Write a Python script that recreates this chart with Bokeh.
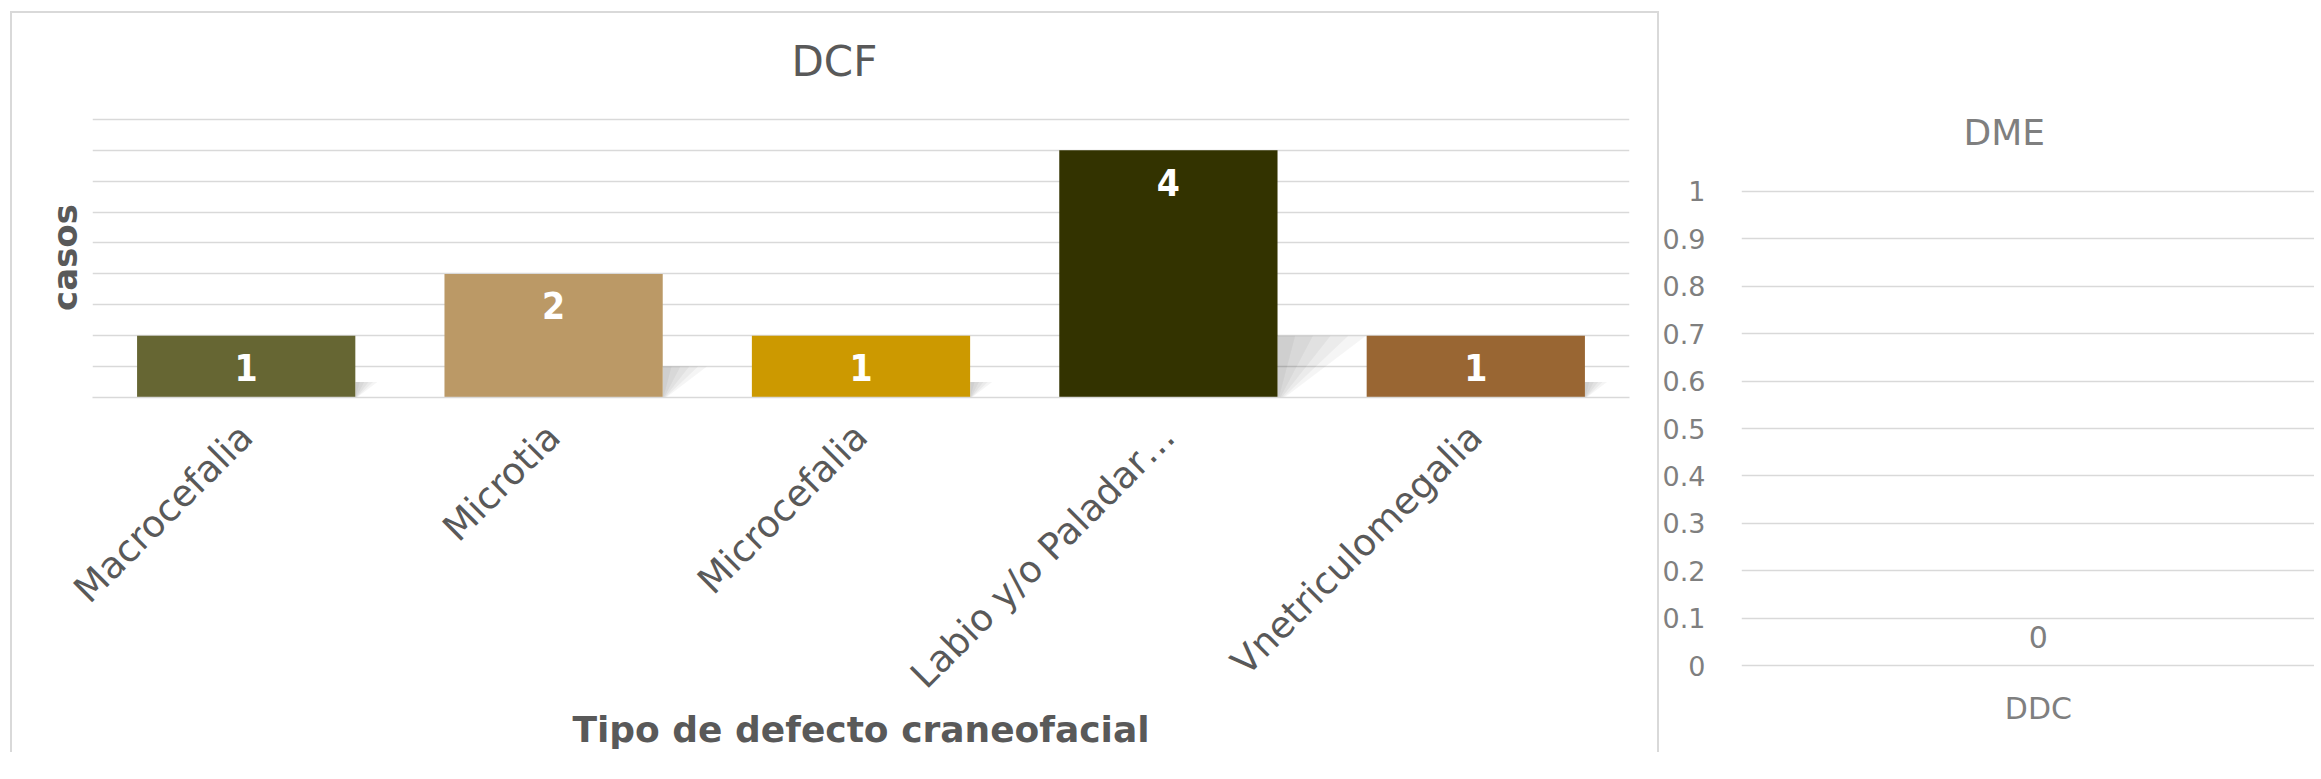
import math
from bokeh.plotting import figure
from bokeh.models import Range1d, FixedTicker, SingleIntervalTicker, ColumnDataSource, Title
from bokeh.layouts import row, column
from bokeh.embed import file_html
from bokeh.resources import INLINE
from bokeh.core.properties import value

# ---------------- data ----------------
dcf_categories = ["Macrocefalia", "Microtia", "Microcefalia", "Labio y/o Paladar…", "Vnetriculomegalia"]
dcf_values = [1, 2, 1, 4, 1]
dcf_colors = ["#666633", "#BB9966", "#CC9900", "#333300", "#996633"]
dcf_title = "DCF"
dcf_xlabel = "Tipo de defecto craneofacial"
dcf_ylabel = "casos"
dcf_y_max = 4.5
dcf_grid_step = 0.5

dme_categories = ["DDC"]
dme_values = [0]
dme_title = "DME"
dme_ticks = [0, 0.1, 0.2, 0.3, 0.4, 0.5, 0.6, 0.7, 0.8, 0.9, 1]
dme_tick_labels = ["0", "0.1", "0.2", "0.3", "0.4", "0.5", "0.6", "0.7", "0.8", "0.9", "1"]

FONT = "DejaVu Sans"
DARK = "#595959"
LIGHT = "#7f7f7f"
GRID = "#d9d9d9"

# ---------------- left chart ----------------
p1 = figure(frame_width=1537, frame_height=280, x_range=Range1d(-0.5, len(dcf_categories) - 0.5),
            y_range=Range1d(0, dcf_y_max + 0.03), output_backend="svg", toolbar_location=None,
            min_border_left=82, min_border_right=30, min_border_top=106, min_border_bottom=0)
p1.margin = (11, 0, 0, 10)
p1.styles = {"box-shadow": "inset 2px 2px 0 0 #d9d9d9, inset -2px 0 0 0 #d9d9d9"}
p1.background_fill_color = None
p1.border_fill_color = None
p1.outline_line_color = None

xs_idx = list(range(len(dcf_categories)))
bw = 0.71
src1 = ColumnDataSource(dict(x=xs_idx, top=dcf_values, color=dcf_colors,
                             label=[str(v) for v in dcf_values]))

# soft perspective shadows derived from bar values
sh_xs, sh_ys = [], []
for i, v in zip(xs_idx, dcf_values):
    xr = i + bw / 2
    h = 0.25 * v
    for frac in (1.0, 0.8, 0.6, 0.4, 0.2):
        w = 0.072 * v * frac
        sh_xs.append([xr, xr, xr + w, xr + 0.08 * w])
        sh_ys.append([0, h, h, 0])
p1.patches(sh_xs, sh_ys, fill_color="black", fill_alpha=0.04, line_color=None)

p1.vbar(x="x", top="top", width=bw, fill_color="color", line_color=None, source=src1)
p1.text(x="x", y="top", text="label", source=src1, text_color="white",
        text_font=value("DejaVu Sans Condensed"), text_font_style="bold",
        text_font_size="37px", text_align="center", text_baseline="middle", y_offset=32)

p1.xgrid.visible = False
p1.ygrid.ticker = SingleIntervalTicker(interval=dcf_grid_step)
p1.ygrid.grid_line_color = GRID
p1.ygrid.grid_line_width = 1.5

p1.yaxis.ticker = FixedTicker(ticks=[])
p1.yaxis.axis_line_color = None
p1.yaxis.major_tick_line_color = None
p1.yaxis.minor_tick_line_color = None
p1.yaxis.axis_label = dcf_ylabel
p1.yaxis.axis_label_text_font = FONT
p1.yaxis.axis_label_text_font_style = "bold"
p1.yaxis.axis_label_text_font_size = "34px"
p1.yaxis.axis_label_text_color = DARK
p1.yaxis.axis_label_standoff = 8

p1.xaxis.ticker = FixedTicker(ticks=xs_idx)
p1.xaxis.major_label_overrides = {i: c for i, c in zip(xs_idx, dcf_categories)}
p1.xaxis.major_label_orientation = math.pi / 4
p1.xaxis.major_label_text_font = FONT
p1.xaxis.major_label_text_font_size = "37px"
p1.xaxis.major_label_text_color = DARK
p1.xaxis.major_label_standoff = 27
p1.xaxis.major_tick_line_color = None
p1.xaxis.minor_tick_line_color = None
p1.xaxis.axis_line_color = GRID
p1.xaxis.axis_line_width = 1.5
p1.xaxis.axis_label = dcf_xlabel
p1.xaxis.axis_label_text_font = FONT
p1.xaxis.axis_label_text_font_style = "bold"
p1.xaxis.axis_label_text_font_size = "36px"
p1.xaxis.axis_label_text_color = DARK
p1.xaxis.axis_label_standoff = -6

# blank spacer title (innermost) so the real title sits higher above the frame
p1.title.text = ""
p1.add_layout(Title(text=" ", text_font_size="12px", standoff=11), "above")
p1.add_layout(Title(text=dcf_title, align="left", offset=699, text_font=FONT,
                    text_font_style="normal", text_font_size="42px", text_color=DARK,
                    standoff=10), "above")

# ---------------- right chart ----------------
p2 = figure(frame_width=573, frame_height=478, x_range=Range1d(-0.5, 0.465),
            y_range=Range1d(-0.004, 1.004),
            output_backend="svg", toolbar_location=None,
            min_border_left=81, min_border_right=0, min_border_top=178, min_border_bottom=0)
p2.margin = (11, 0, 0, 0)
p2.background_fill_color = None
p2.border_fill_color = None
p2.outline_line_color = None

x2 = list(range(len(dme_categories)))
src2 = ColumnDataSource(dict(x=x2, top=dme_values, label=[str(v) for v in dme_values]))
p2.vbar(x="x", top="top", width=0.6, fill_color="#666633", line_color=None, source=src2)
p2.text(x="x", y="top", text="label", source=src2, text_color=LIGHT, text_font=value(FONT),
        text_font_size="30px", text_align="center", text_baseline="middle", y_offset=-29)

p2.xgrid.visible = False
p2.ygrid.ticker = FixedTicker(ticks=dme_ticks)
p2.ygrid.grid_line_color = GRID
p2.ygrid.grid_line_width = 1.5

p2.yaxis.ticker = FixedTicker(ticks=dme_ticks)
p2.yaxis.major_label_overrides = {t: l for t, l in zip(dme_ticks, dme_tick_labels)}
p2.yaxis.axis_line_color = None
p2.yaxis.major_tick_line_color = None
p2.yaxis.minor_tick_line_color = None
p2.yaxis.major_tick_out = 0
p2.yaxis.major_tick_in = 0
p2.yaxis.major_label_text_font = FONT
p2.yaxis.major_label_text_font_size = "27px"
p2.yaxis.major_label_text_color = LIGHT
p2.yaxis.major_label_standoff = 36

p2.xaxis.ticker = FixedTicker(ticks=x2)
p2.xaxis.major_label_overrides = {i: c for i, c in zip(x2, dme_categories)}
p2.xaxis.axis_line_color = None
p2.xaxis.major_tick_line_color = None
p2.xaxis.minor_tick_line_color = None
p2.xaxis.major_label_text_font = FONT
p2.xaxis.major_label_text_font_size = "30px"
p2.xaxis.major_label_text_color = LIGHT
p2.xaxis.major_label_standoff = 17

p2.title.text = dme_title
p2.title.align = "left"
p2.title.offset = 222
p2.title.text_font = FONT
p2.title.text_font_style = "normal"
p2.title.text_font_size = "36px"
p2.title.text_color = LIGHT
p2.title.standoff = 73

layout = row(column(p1), column(p2))
open("out.html", "w").write(file_html(layout, INLINE))
